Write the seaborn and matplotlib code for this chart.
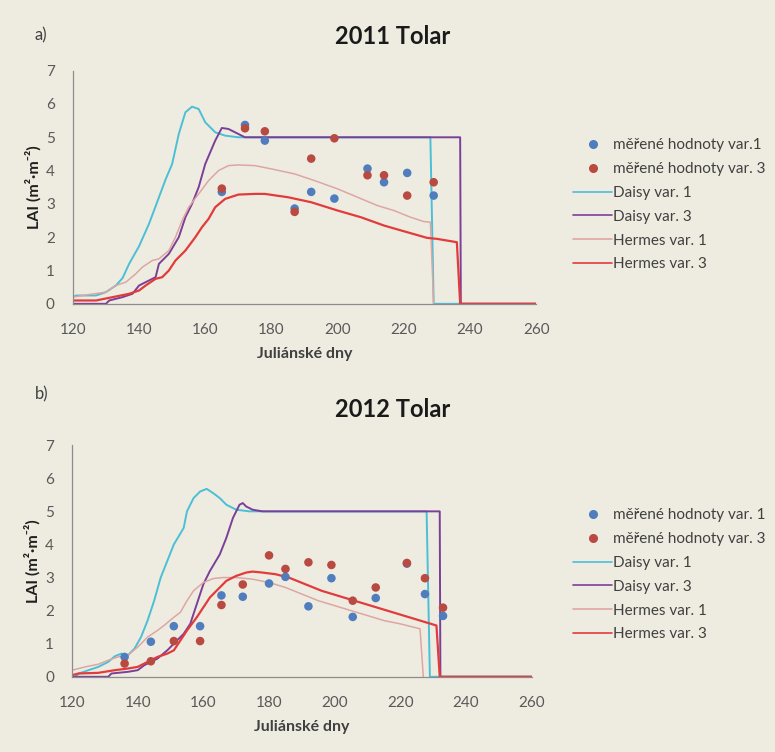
import numpy as np
import pandas as pd
import matplotlib.pyplot as plt
import seaborn as sns
from matplotlib.lines import Line2D

# %% data: 2011
meas_x_2011 = [165, 172, 178, 187, 192, 199, 209, 214, 221, 229]
meas1_2011 = [3.36, 5.37, 4.90, 2.86, 3.36, 3.16, 4.06, 3.65, 3.93, 3.25]
meas3_2011 = [3.46, 5.27, 5.18, 2.76, 4.36, 4.97, 3.86, 3.86, 3.25, 3.65]

daisy1_x_2011 = [120, 121, 127, 130, 133, 135, 137, 140, 143, 145, 148, 150, 152, 154, 156, 158,
                 160, 163, 166, 170, 228, 229, 260]
daisy1_y_2011 = [0.2, 0.25, 0.25, 0.35, 0.55, 0.77, 1.2, 1.73, 2.4, 2.93, 3.73, 4.2, 5.1, 5.75, 5.92, 5.85,
                 5.45, 5.15, 5.05, 5.0, 5.0, 0.0, 0.0]
daisy3_x_2011 = [120, 130, 131, 135, 138, 140, 145, 146, 149, 152, 154, 156, 158, 160, 163, 165,
                 167, 170, 172, 237, 237.2, 260]
daisy3_y_2011 = [0.0, 0.0, 0.1, 0.2, 0.3, 0.55, 0.8, 1.2, 1.5, 2.0, 2.6, 3.0, 3.5, 4.2, 4.9, 5.28,
                 5.25, 5.1, 5.0, 5.0, 0.0, 0.0]
hermes1_x_2011 = [120, 125, 130, 133, 136, 139, 141, 144, 146, 149, 151, 153, 155, 158, 161, 164,
                  167, 170, 175, 180, 187, 193, 200, 206, 212, 217, 222, 226, 228, 229]
hermes1_y_2011 = [0.2, 0.28, 0.35, 0.55, 0.65, 0.9, 1.1, 1.3, 1.35, 1.6, 2.0, 2.5, 2.9, 3.3, 3.7, 4.0,
                  4.15, 4.17, 4.15, 4.05, 3.9, 3.7, 3.45, 3.2, 2.95, 2.8, 2.6, 2.47, 2.45, 0.0]
hermes3_x_2011 = [120, 127, 132, 137, 140, 142, 145, 147, 149, 151, 154, 157, 159, 161, 163, 166,
                  170, 175, 178, 185, 192, 200, 207, 214, 221, 227, 230, 236, 237, 260]
hermes3_y_2011 = [0.1, 0.1, 0.2, 0.3, 0.4, 0.55, 0.75, 0.8, 1.0, 1.3, 1.6, 2.0, 2.3, 2.55, 2.9, 3.15,
                  3.28, 3.3, 3.3, 3.2, 3.05, 2.8, 2.6, 2.35, 2.15, 1.98, 1.95, 1.85, 0.0, 0.0]

# %% data: 2012
meas_x_2012 = [136, 144, 151, 159, 165.5, 172, 180, 185, 192, 199, 205.5, 212.5, 222, 227.5, 233]
meas1_2012 = [0.60, 1.06, 1.53, 1.53, 2.46, 2.42, 2.82, 3.02, 2.13, 2.98, 1.81, 2.38, 3.42, 2.50, 1.84]
meas3_2012 = [0.40, 0.47, 1.08, 1.08, 2.17, 2.79, 3.67, 3.26, 3.46, 3.38, 2.30, 2.70, 3.44, 2.98, 2.09]

daisy1_x_2012 = [120, 121, 122, 125, 128, 131, 133, 135, 137, 139, 141, 143, 145, 147, 149, 151,
                 154, 155, 157, 159, 161, 163, 165, 167, 170, 174, 228, 229, 260]
daisy1_y_2012 = [0.0, 0.0, 0.1, 0.2, 0.3, 0.45, 0.62, 0.7, 0.65, 0.85, 1.2, 1.7, 2.3, 3.0, 3.5, 4.0,
                 4.5, 5.0, 5.4, 5.6, 5.68, 5.55, 5.4, 5.2, 5.05, 5.0, 5.0, 0.0, 0.0]
daisy3_x_2012 = [120, 131, 132, 137, 140, 142, 146, 149, 152, 154, 156, 158, 160, 162, 165, 167,
                 169, 171, 172, 173, 175, 178, 232, 232.2, 260]
daisy3_y_2012 = [0.0, 0.0, 0.1, 0.15, 0.2, 0.35, 0.55, 0.8, 1.1, 1.3, 1.6, 2.2, 2.8, 3.2, 3.7, 4.2,
                 4.8, 5.2, 5.25, 5.15, 5.05, 5.0, 5.0, 0.0, 0.0]
hermes1_x_2012 = [120, 124, 128, 131, 134, 137, 140, 143, 146, 148, 151, 153, 155, 157, 160, 163,
                  166, 170, 175, 180, 185, 190, 195, 200, 205, 210, 215, 220, 226, 227]
hermes1_y_2012 = [0.2, 0.3, 0.38, 0.5, 0.6, 0.65, 0.9, 1.2, 1.4, 1.55, 1.8, 1.95, 2.3, 2.6, 2.85, 2.97,
                  3.0, 3.0, 2.95, 2.85, 2.7, 2.5, 2.3, 2.15, 2.0, 1.85, 1.7, 1.6, 1.45, 0.0]
hermes3_x_2012 = [120, 122, 128, 133, 137, 140, 143, 146, 149, 151, 153, 155, 158, 160, 162, 165,
                  167, 170, 173, 175, 178, 182, 186, 191, 196, 201, 206, 211, 216, 221, 226, 231,
                  232, 260]
hermes3_y_2012 = [0.05, 0.1, 0.12, 0.2, 0.25, 0.3, 0.45, 0.6, 0.7, 0.8, 1.1, 1.4, 1.8, 2.1, 2.4, 2.7,
                  2.9, 3.05, 3.15, 3.18, 3.15, 3.1, 3.0, 2.8, 2.6, 2.45, 2.3, 2.15, 2.0, 1.85, 1.7, 1.55,
                  0.0, 0.0]

labels_meas = ['měřené hodnoty var.1', 'měřené hodnoty var. 3']
labels_meas_b = ['měřené hodnoty var. 1', 'měřené hodnoty var. 3']
labels_lines = ['Daisy var. 1', 'Daisy var. 3', 'Hermes var. 1', 'Hermes var. 3']

# %% style
bg = '#eeece1'
c_daisy1 = '#4bbfd6'
c_daisy3 = '#7b3f98'
c_hermes1 = '#dea6a3'
c_hermes3 = '#e23b3b'
c_m1 = '#4f7dbd'
c_m3 = '#b84a42'
txt = '#404040'
gray = '#595959'

sns.set_style('white')
plt.rcParams['font.family'] = ['Lato', 'DejaVu Sans']

fig = plt.figure(figsize=(7.75, 7.52), dpi=100, facecolor=bg)


def panel(ax, tag, title, lines, mx, m1, m3, meas_labels, title_y, tag_y, leg_top):
    ax.set_facecolor(bg)
    for (xs, ys), col, lw in zip(lines, [c_daisy1, c_daisy3, c_hermes1, c_hermes3], [1.4, 1.4, 1.1, 1.6]):
        d = pd.DataFrame({'x': xs, 'y': ys})
        sns.lineplot(data=d, x='x', y='y', ax=ax, color=col, lw=lw, sort=False)
    sns.scatterplot(x=mx, y=m1, ax=ax, color=c_m1, s=38, edgecolor='none', zorder=5)
    sns.scatterplot(x=mx, y=m3, ax=ax, color=c_m3, s=38, edgecolor='none', zorder=5)
    ax.set_xlim(120, 260)
    ax.set_ylim(0, 7)
    ax.set_xticks(range(120, 261, 20))
    ax.set_yticks(range(0, 8))
    for s in ['top', 'right']:
        ax.spines[s].set_visible(False)
    for s in ['left', 'bottom']:
        ax.spines[s].set_color('#8c8c8c')
        ax.spines[s].set_linewidth(0.9)
    ax.tick_params(direction='out', length=4, width=0.8, color='#8c8c8c', labelcolor=gray, labelsize=11)
    ax.tick_params(axis='x', pad=10)
    ax.tick_params(axis='y', pad=9)
    ax.set_xlabel('Juliánské dny', fontsize=11.5, fontweight='bold', color=txt, labelpad=7)
    ax.set_ylabel('LAI (m²·m⁻²)', fontsize=11.5, fontweight='bold', color='#202020', labelpad=3)
    fig.text(0.507, title_y, title, ha='center', va='center', fontsize=17, fontweight='bold', color='#1a1a1a')
    fig.text(0.045, tag_y, tag, ha='left', va='center', fontsize=12, color=txt)

    handles = [Line2D([], [], ls='none', marker='o', ms=5.5, color=c_m1),
               Line2D([], [], ls='none', marker='o', ms=5.5, color=c_m3),
               Line2D([], [], color=c_daisy1, lw=1.2),
               Line2D([], [], color=c_daisy3, lw=1.2),
               Line2D([], [], color=c_hermes1, lw=1.2),
               Line2D([], [], color=c_hermes3, lw=1.2)]
    fig.legend(handles, meas_labels + labels_lines, loc='upper left', bbox_to_anchor=(0.732, leg_top),
               frameon=False, fontsize=11, labelcolor=txt, handlelength=2.5, handletextpad=0.1,
               labelspacing=0.64, borderaxespad=0)


ax1 = fig.add_axes([0.094, 0.596, 0.598, 0.31])
panel(ax1, 'a)', '2011 Tolar',
      [(daisy1_x_2011, daisy1_y_2011), (daisy3_x_2011, daisy3_y_2011),
       (hermes1_x_2011, hermes1_y_2011), (hermes3_x_2011, hermes3_y_2011)],
      meas_x_2011, meas1_2011, meas3_2011, labels_meas, 0.951, 0.953, 0.824)

ax2 = fig.add_axes([0.093, 0.100, 0.593, 0.308])
panel(ax2, 'b)', '2012 Tolar',
      [(daisy1_x_2012, daisy1_y_2012), (daisy3_x_2012, daisy3_y_2012),
       (hermes1_x_2012, hermes1_y_2012), (hermes3_x_2012, hermes3_y_2012)],
      meas_x_2012, meas1_2012, meas3_2012, labels_meas_b, 0.455, 0.475, 0.332)

fig.savefig('out.png', dpi=100, facecolor=bg)
